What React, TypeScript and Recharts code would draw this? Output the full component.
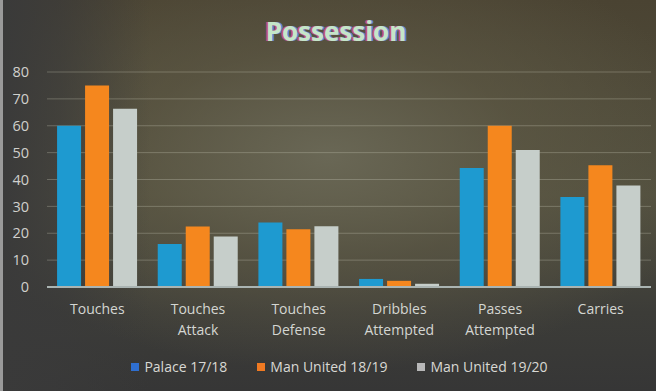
import React from 'react';
import { BarChart, Bar, XAxis, YAxis, CartesianGrid, Legend } from 'recharts';

const categories = ['Touches', 'Touches\nAttack', 'Touches\nDefense', 'Dribbles\nAttempted', 'Passes\nAttempted', 'Carries'];
const palace1718 = [60, 16, 24, 3, 44.3, 33.5];
const manUtd1819 = [75, 22.5, 21.5, 2.3, 60, 45.3];
const manUtd1920 = [66.3, 18.8, 22.6, 1.2, 51, 37.8];
const yTicks = [0, 10, 20, 30, 40, 50, 60, 70, 80];

const data = categories.map((c, i) => ({
  name: c,
  palace: palace1718[i],
  mu1819: manUtd1819[i],
  mu1920: manUtd1920[i],
}));

const FONT = '"Open Sans", "Liberation Sans", sans-serif';

const XTick = (props: any) => {
  const { x, y, payload } = props;
  const lines = String(payload.value).split('\n');
  return (
    <g transform={`translate(${x},${y})`}>
      {lines.map((l: string, i: number) => (
        <text key={i} x={0} y={19 + i * 21} textAnchor="middle" fill="#d4d6d2" fontSize={14} fontFamily={FONT}>
          {l}
        </text>
      ))}
    </g>
  );
};

const LegendContent = () => {
  const items = [
    { label: 'Palace 17/18', color: '#2f6fd0' },
    { label: 'Man United 18/19', color: '#f07a22' },
    { label: 'Man United 19/20', color: '#b8b8b8' },
  ];
  return (
    <div style={{ display: 'flex', justifyContent: 'center', gap: 30, fontFamily: FONT, fontSize: 14, color: '#d8d8d4', paddingLeft: 28, transform: 'translateY(4px)' }}>
      {items.map((it) => (
        <div key={it.label} style={{ display: 'flex', alignItems: 'center' }}>
          <span style={{ display: 'inline-block', width: 8, height: 8, background: it.color, marginRight: 5 }} />
          <span>{it.label}</span>
        </div>
      ))}
    </div>
  );
};

export default function App() {
  return (
    <div
      style={{
        position: 'absolute',
        left: 0,
        top: 0,
        width: 656,
        height: 391,
        overflow: 'hidden',
        background:
          'radial-gradient(ellipse 60% 55% at 50% 40%, rgba(108,106,88,0.9) 0%, rgba(95,90,70,0.6) 50%, rgba(0,0,0,0) 100%), linear-gradient(to bottom, #4a4332 0%, #52503f 50%, #3c3c38 80%, #363636 100%)',
      }}
    >
      <div style={{ position: 'absolute', left: 0, top: 0, width: 150, height: 391, background: 'linear-gradient(to right, #3a3a3a 0%, rgba(58,58,58,0.7) 40%, rgba(58,58,58,0) 100%)' }} />
      <div style={{ position: 'absolute', left: 0, top: 0, width: 3, height: 391, background: '#9a9a9a' }} />
      <div style={{ position: 'absolute', left: 0, top: 0 }}>
        <BarChart
          width={656}
          height={391}
          data={data}
          margin={{ top: 72, right: 5, left: 0, bottom: 19 }}
          barCategoryGap="10%"
          barGap={4}
        >
          <text x={336} y={41} textAnchor="middle" fill="#c4e6c8" fontSize={26} fontWeight="bold" fontFamily={FONT} style={{ textShadow: '-2px 0 #c05080, 2px 0 #6080d0' }}>
            Possession
          </text>
          <CartesianGrid vertical={false} stroke="rgba(200,200,185,0.32)" strokeWidth={1} />
          <XAxis
            dataKey="name"
            interval={0}
            tick={<XTick />}
            tickLine={false}
            axisLine={{ stroke: '#aab4b2', strokeWidth: 2 }}
            height={66}
          />
          <YAxis
            width={47}
            domain={[0, 80]}
            ticks={yTicks}
            tickLine={false}
            axisLine={false}
            tickSize={0}
            tickMargin={18}
            tick={{ fill: '#d0d0cc', fontSize: 14.5, fontFamily: FONT }}
          />
          <Legend verticalAlign="bottom" content={<LegendContent />} />
          <Bar dataKey="palace" fill="#1e9ad0" isAnimationActive={false} />
          <Bar dataKey="mu1819" fill="#f5871e" isAnimationActive={false} />
          <Bar dataKey="mu1920" fill="#c6ceca" isAnimationActive={false} />
        </BarChart>
      </div>
    </div>
  );
}
